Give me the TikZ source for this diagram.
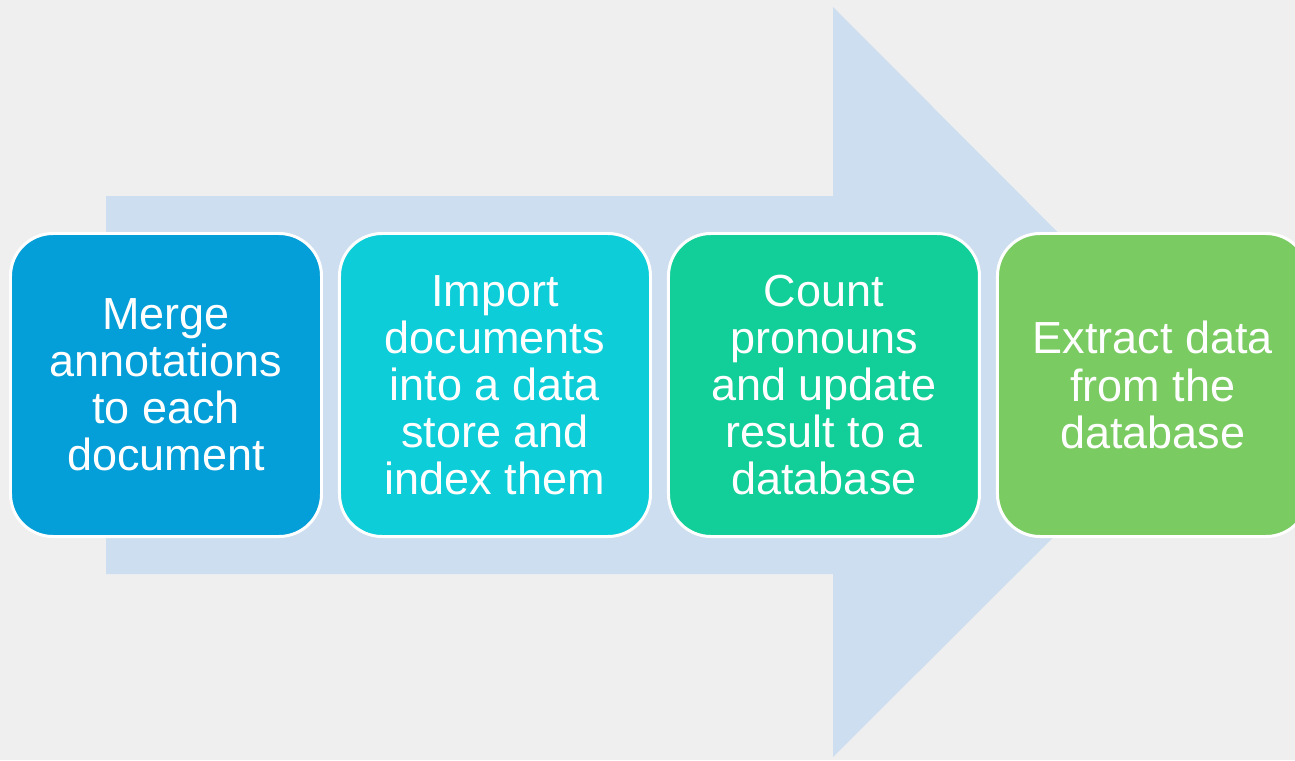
\documentclass[tikz,border=0pt]{standalone}
\usepackage{fontspec}
\setmainfont{Liberation Sans}
\usepackage{tikz}
\usetikzlibrary{positioning}
\definecolor{bggray}{HTML}{EFEFEF}
\definecolor{flowblue}{HTML}{CCDEEF}
\definecolor{mergecol}{HTML}{049ED8}
\definecolor{importcol}{HTML}{0DCDD9}
\definecolor{countcol}{HTML}{12CE98}
\definecolor{extractcol}{HTML}{7BCB63}
\tikzset{
    stepbox/.style={draw=white, line width=1.7pt, rectangle, rounded corners=0.85cm, minimum width=6.22cm, minimum height=6.06cm, inner sep=0pt, align=center, text=white, font=\fontsize{25.6}{26.8}\selectfont},
    flow/.style={fill=flowblue, draw=none}
}

\begin{document}
\begin{tikzpicture}
\useasboundingbox (0,0) rectangle (25.9,15.2);
\clip (0,0) rectangle (25.9,15.2);
\fill[bggray] (0,0) rectangle (25.9,15.2);
% big arrow behind the steps
\fill[flow] (2.12,11.28) -- (16.66,11.28) -- (16.66,15.06) -- (24.16,7.54)
    -- (16.66,0.06) -- (16.66,3.72) -- (2.12,3.72) -- cycle;
% steps
\node[stepbox, fill=mergecol] (merge) at (3.32,7.5) {Merge\\annotations\\to each\\document};
\node[stepbox, fill=importcol, right=0.3cm of merge] (import) {Import\\documents\\into a data\\store and\\index them};
\node[stepbox, fill=countcol, right=0.3cm of import] (count) {Count\\pronouns\\and update\\result to a\\database};
\node[stepbox, fill=extractcol, right=0.3cm of count] (extract) {Extract data\\from the\\database};
\end{tikzpicture}
\end{document}
